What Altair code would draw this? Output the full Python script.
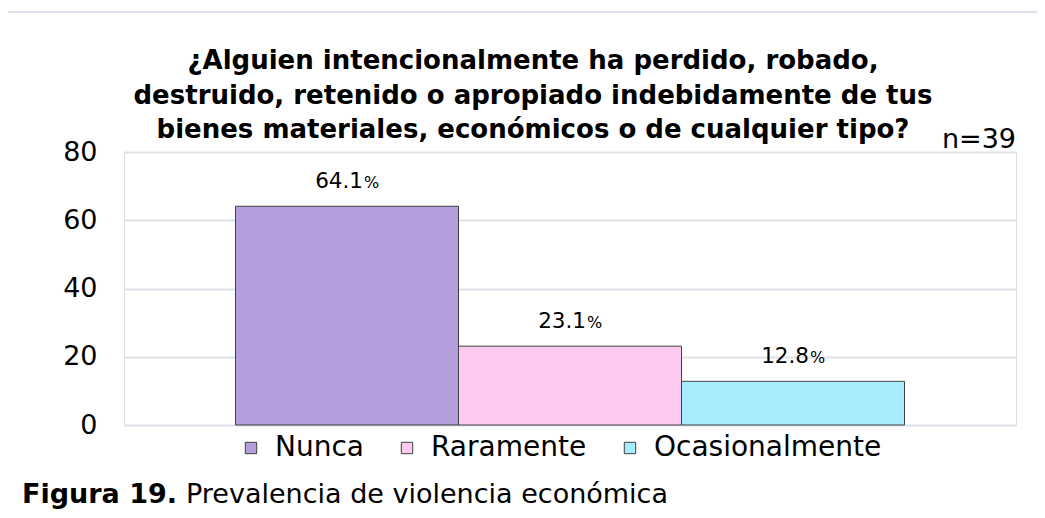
import altair as alt
import pandas as pd

# ---- data ----
categories = ["Nunca", "Raramente", "Ocasionalmente"]
values = [64.1, 23.1, 12.8]
value_labels = ["64.1", "23.1", "12.8"]
bar_colors = ["#b49edc", "#fdc9f0", "#a6ecfc"]
y_ticks = [0, 20, 40, 60, 80]
title_lines = [
    "¿Alguien intencionalmente ha perdido, robado,",
    "destruido, retenido o apropiado indebidamente de tus",
    "bienes materiales, económicos o de cualquier tipo?",
]
sample_note = "n=39"
caption_bold = "Figura 19."
caption_rest = "Prevalencia de violencia económica"

FONT = "DejaVu Sans"
W, H = 892, 273

df = pd.DataFrame({"cat": categories, "val": values, "num": value_labels})

x_enc = alt.X("cat:N", sort=categories,
              scale=alt.Scale(paddingInner=0, paddingOuter=0.5), axis=None)
y_enc = alt.Y("val:Q", scale=alt.Scale(domain=[0, 80], nice=False),
              axis=alt.Axis(values=y_ticks, title=None, ticks=False, tickSize=0,
                            domain=False, grid=True, gridColor="#dde2e8",
                            gridWidth=2, labelFont=FONT, labelFontSize=27,
                            labelColor="#000000", labelPadding=27))

base = alt.Chart(df)

bars = base.mark_bar(stroke="#404040", strokeWidth=1).encode(
    x=x_enc, y=y_enc,
    color=alt.Color("cat:N", sort=categories,
                    scale=alt.Scale(domain=categories, range=bar_colors),
                    legend=alt.Legend(title=None, orient="none", direction="horizontal",
                                      legendX=113, legendY=282, padding=0,
                                      symbolType="square", symbolSize=130,
                                      symbolStrokeColor="#404040", symbolStrokeWidth=1,
                                      symbolOpacity=1,
                                      labelFont=FONT, labelFontSize=28, labelLimit=0,
                                      labelColor="#000000", labelOffset=10,
                                      columnPadding=29)),
)

num_text = base.mark_text(align="right", baseline="alphabetic", dy=-18, dx=16,
                          font=FONT, fontSize=21.5, color="#000000").encode(
    x=x_enc, y=alt.Y("val:Q"), text="num:N")
pct_text = base.mark_text(align="left", baseline="alphabetic", dy=-18, dx=17,
                          font=FONT, fontSize=16, color="#000000").encode(
    x=x_enc, y=alt.Y("val:Q"), text=alt.value("%"))

title_txt = alt.Chart(pd.DataFrame({"t": ["\n".join(title_lines)]})).mark_text(
    align="center", baseline="alphabetic", font=FONT, fontSize=26, fontWeight="bold",
    color="#000000", lineBreak="\n", lineHeight=34.5
).encode(text="t:N", x=alt.value(409), y=alt.value(-83))

note = alt.Chart(pd.DataFrame({"t": [sample_note]})).mark_text(
    align="right", baseline="alphabetic", font=FONT, fontSize=27, color="#000000"
).encode(text="t:N", x=alt.value(W), y=alt.value(-4))

cap1 = alt.Chart(pd.DataFrame({"t": [caption_bold]})).mark_text(
    align="left", baseline="alphabetic", font=FONT, fontSize=27,
    fontWeight="bold", color="#000000"
).encode(text="t:N", x=alt.value(-102), y=alt.value(351))
cap2 = alt.Chart(pd.DataFrame({"t": [caption_rest]})).mark_text(
    align="left", baseline="alphabetic", font=FONT, fontSize=27, color="#000000"
).encode(text="t:N", x=alt.value(62), y=alt.value(351))

frame_df = pd.DataFrame({"k": [0]})
frame_top = alt.Chart(frame_df).mark_rule(color="#dde2ea", strokeWidth=2).encode(
    x=alt.value(-118), x2=alt.value(913), y=alt.value(-140))
frame_left = alt.Chart(frame_df).mark_rule(color="#dde2ea", strokeWidth=2).encode(
    x=alt.value(-118), y=alt.value(-140), y2=alt.value(358))

chart = alt.layer(frame_top, frame_left, bars, num_text, pct_text, title_txt, note,
                  cap1, cap2).properties(
    width=W, height=H,
    autosize=alt.AutoSizeParams(type="none"),
    padding={"left": 116, "top": 144, "right": 21, "bottom": 85},
).configure_view(stroke=None).configure(background="white")

chart.save("out.html", embed_options={"renderer": "svg", "actions": False})
